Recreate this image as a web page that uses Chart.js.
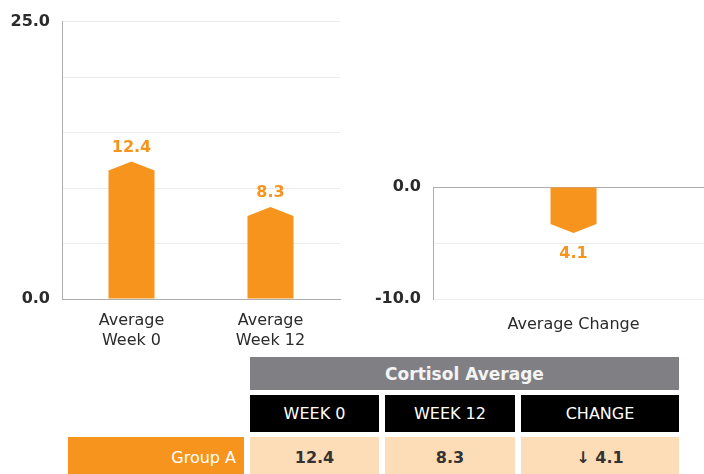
<!DOCTYPE html>
<html>
<head>
<meta charset="utf-8">
<script src="https://cdn.jsdelivr.net/npm/chart.js@4.4.1/dist/chart.umd.min.js"></script>
<style>
  html, body { margin: 0; padding: 0; background: #fff; }
  body { width: 704px; height: 474px; overflow: hidden; position: relative; font-family: "DejaVu Sans", sans-serif; }
  #leftBox { position: absolute; left: 0; top: 0; width: 345px; height: 350px; }
  #rightBox { position: absolute; left: 350px; top: 150px; width: 364px; height: 200px; }
  #tabla {
    position: absolute; left: 68px; top: 357px;
    display: grid;
    grid-template-columns: 176px 129px 130px 158px;
    grid-template-rows: 33px 37px 40px;
    column-gap: 6px; row-gap: 5px;
  }
  #tabla div { display: flex; align-items: center; justify-content: center; }
  .cab { grid-column: 2 / 5; background: #808084; color: #f4f4f4; font-weight: bold; font-size: 17px; }
  .sub { background: #000; color: #fff; font-size: 16px; }
  .grupo { background: #f7941d; color: #fff; font-size: 16px; justify-content: flex-end !important; padding-right: 8px; }
  .celda { background: #fddcb8; color: #333; font-weight: bold; font-size: 16px; }
</style>
</head>
<body>
<div id="leftBox"><canvas id="graficoSemanas" width="345" height="350"></canvas></div>
<div id="rightBox"><canvas id="graficoCambio" width="364" height="200"></canvas></div>
<div id="tabla"></div>

<script>
// datos
const categoriasSemanas = [["Average", "Week 0"], ["Average", "Week 12"]];
const valoresSemanas = [12.4, 8.3];
const categoriasCambio = ["Average Change"];
const valoresCambio = [-4.1];
const ticksSemanas = [0, 25];
const ticksCambio = [0, -10];

const tituloTabla = "Cortisol Average";
const columnasTabla = ["WEEK 0", "WEEK 12", "CHANGE"];
const nombreGrupo = "Group A";
const valoresGrupo = [12.4, 8.3, -4.1];

const naranja = "#f7941d";
const textoEje = "#2b2b2b";
const fuente = "DejaVu Sans";

// barras con punta (pentágono)
const barrasPunta = {
  id: "barrasPunta",
  afterDatasetsDraw(chart) {
    const ctx = chart.ctx;
    chart.data.datasets.forEach((ds, i) => {
      const meta = chart.getDatasetMeta(i);
      meta.data.forEach((el, j) => {
        const { x, y, base, width } = el.getProps(["x", "y", "base", "width"], true);
        const dir = y < base ? 1 : -1;
        const hombro = y + dir * 9;
        ctx.save();
        ctx.fillStyle = naranja;
        ctx.beginPath();
        ctx.moveTo(x - width / 2, base);
        ctx.lineTo(x - width / 2, hombro);
        ctx.lineTo(x, y);
        ctx.lineTo(x + width / 2, hombro);
        ctx.lineTo(x + width / 2, base);
        ctx.closePath();
        ctx.fill();

        const v = ds.data[j];
        ctx.font = `bold 16px "${fuente}"`;
        ctx.textAlign = "center";
        ctx.textBaseline = "middle";
        ctx.fillText(Math.abs(v).toFixed(1), x, dir > 0 ? y - 14 : y + 21);
        ctx.restore();
      });
    });
  },
};

function crearGrafico(id, labels, data, opts) {
  return new Chart(document.getElementById(id).getContext("2d"), {
    type: "bar",
    data: {
      labels: labels,
      datasets: [{ data: data, backgroundColor: "rgba(0,0,0,0)", borderWidth: 0, barThickness: 46 }],
    },
    options: {
      responsive: false,
      animation: false,
      layout: { padding: opts.padding },
      plugins: { legend: { display: false }, tooltip: { enabled: false } },
      scales: {
        x: {
          grid: { display: false },
          border: opts.xBorde,
          ticks: { color: textoEje, font: { family: fuente, size: 16, lineHeight: 1.3 }, padding: opts.xPad, maxRotation: 0 },
          afterFit: s => { s.height = 51; },
        },
        y: {
          min: opts.min, max: opts.max,
          grid: { color: opts.gridColor, drawTicks: false },
          border: { color: "#adadad" },
          ticks: {
            stepSize: 5, padding: 12, color: textoEje,
            font: { family: fuente, size: 16, weight: "bold" },
            callback: v => opts.ticks.includes(v) ? v.toFixed(1) : "",
          },
          afterFit: s => { s.width = opts.yAncho; },
        },
      },
    },
    plugins: [barrasPunta],
  });
}

crearGrafico("graficoSemanas", categoriasSemanas, valoresSemanas, {
  padding: { top: 16, right: 5 },
  min: 0, max: 25, ticks: ticksSemanas, yAncho: 62, xPad: 3,
  xBorde: { color: "#adadad" },
  gridColor: "#ececec",
});

crearGrafico("graficoCambio", categoriasCambio, valoresCambio, {
  padding: { top: 37, right: 0 },
  min: -10, max: 0, ticks: ticksCambio, yAncho: 83, xPad: 7,
  xBorde: { display: false },
  gridColor: ctx => ctx.tick && ctx.tick.value === 0 ? "#adadad" : "#ececec",
});

// tabla
const tabla = document.getElementById("tabla");
function celda(cls, texto) {
  const d = document.createElement("div");
  if (cls) d.className = cls;
  d.textContent = texto;
  tabla.appendChild(d);
}
celda("", "");
celda("cab", tituloTabla);
celda("", "");
columnasTabla.forEach(c => celda("sub", c));
celda("grupo", nombreGrupo);
valoresGrupo.forEach(v => celda("celda", v < 0 ? "↓ " + Math.abs(v).toFixed(1) : v.toFixed(1)));
</script>
</body>
</html>
